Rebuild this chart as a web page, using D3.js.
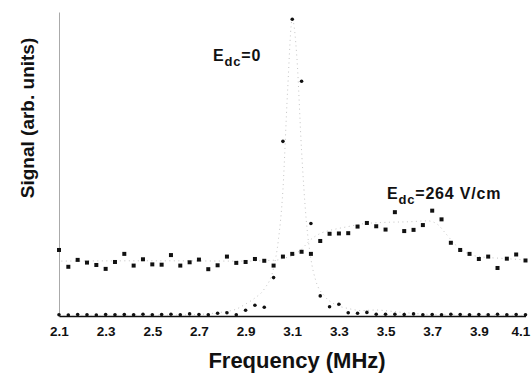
<!DOCTYPE html>
<html>
<head>
<meta charset="utf-8">
<script src="https://cdn.jsdelivr.net/npm/d3@7"></script>
<style>
  body { margin: 0; background: #fff; }
  svg { display: block; font-family: 'Liberation Sans', Arial, Helvetica, sans-serif; }
</style>
</head>
<body>
<svg id="chart" width="531" height="373"></svg>
<script>
// frequencies (MHz) of the measured points
var freq = [2.10, 2.14, 2.18, 2.22, 2.26, 2.30, 2.34, 2.38, 2.42, 2.46,
  2.50, 2.54, 2.58, 2.62, 2.66, 2.70, 2.74, 2.78, 2.82, 2.86,
  2.90, 2.94, 2.98, 3.02, 3.06, 3.10, 3.14, 3.18, 3.22, 3.26,
  3.30, 3.34, 3.38, 3.42, 3.46, 3.50, 3.54, 3.58, 3.62, 3.66,
  3.70, 3.74, 3.78, 3.82, 3.86, 3.90, 3.94, 3.98, 4.02, 4.06, 4.10];

// E_dc = 264 V/cm
var signal264 = [22.0, 16.4, 18.7, 17.8, 17.0, 15.7, 18.0, 20.7, 16.8, 18.9,
  17.2, 17.1, 20.3, 16.8, 17.9, 18.8, 15.6, 16.9, 19.8, 17.7,
  18.0, 19.0, 18.4, 16.8, 19.8, 20.7, 21.4, 20.7, 25.0, 27.4,
  27.5, 27.6, 29.8, 31.0, 29.9, 28.8, 34.6, 28.3, 28.7, 30.3,
  35.1, 32.2, 24.4, 22.0, 20.7, 19.0, 19.8, 16.0, 19.1, 20.5, 18.5];

// E_dc = 0
var signal0 = [0.4, 0.3, 0.5, 0.4, 0.3, 0.5, 0.4, 0.5, 0.4, 0.6,
  0.4, 0.5, 0.6, 0.4, 0.7, 0.5, 0.4, 0.9, 1.1, 0.4,
  1.9, 3.6, 2.9, 12.8, 58.2, 98.9, 78.2, 30.8, 6.7, 3.1,
  3.9, 1.1, 0.9, 1.2, 0.6, 0.6, 0.6, 0.5, 0.7, 0.4,
  0.5, 0.4, 0.6, 0.5, 0.4, 0.5, 0.4, 0.6, 0.4, 0.5, 0.4];

// fitted curves (dotted)
var fit264Freq = [2.11, 2.50, 2.90, 3.00, 3.04, 3.06, 3.10, 3.14, 3.18, 3.22,
  3.26, 3.30, 3.34, 3.40, 3.50, 3.60, 3.68, 3.72, 3.76, 3.80,
  3.84, 3.90, 4.00, 4.10];
var fit264 = [18.3, 18.4, 18.3, 18.5, 18.7, 19.2, 20.0, 22.3, 25.5, 27.5,
  28.5, 29.2, 29.8, 30.7, 31.2, 31.4, 31.7, 30.7, 27.3, 23.7,
  21.3, 19.8, 19.2, 18.7];

var fit0Freq = [2.10, 2.60, 2.70, 2.76, 2.80, 2.86, 2.90, 2.94, 2.98, 3.02,
  3.04, 3.06, 3.08, 3.10, 3.12, 3.14, 3.16, 3.18, 3.20, 3.24,
  3.28, 3.34, 3.40, 3.46, 3.52, 3.60, 3.70, 3.90, 4.10];
var fit0 = [0.2, 0.3, 0.5, 0.9, 1.3, 2.3, 4.0, 6.0, 9.0, 16,
  25, 42, 75, 99, 86, 55, 32, 19, 12, 6.5,
  4.0, 2.5, 1.8, 2.0, 1.6, 1.0, 0.5, 0.3, 0.2];

var tickLabels = [2.1, 2.3, 2.5, 2.7, 2.9, 3.1, 3.3, 3.5, 3.7, 3.9, 4.1];

var svg = d3.select('#chart');

var x = d3.scaleLinear()
  .domain([2.1, 4.1])
  .range([59, 525.5]);

var y = d3.scaleLinear()
  .domain([0, 101.3])
  .range([316, 12]);

// y axis: plain grey line, no ticks
svg.append('g')
  .attr('transform', 'translate(59,0)')
  .call(d3.axisLeft(y).tickValues([]).tickSizeOuter(0))
  .select('.domain')
  .attr('stroke', '#aaa')
  .attr('stroke-width', 1);

// x axis
var xaxis = svg.append('g')
  .attr('transform', 'translate(0,316)')
  .call(d3.axisBottom(x)
    .tickValues(tickLabels)
    .tickSize(0)
    .tickPadding(10)
    .tickFormat(d3.format('.1f')));

xaxis.select('.domain')
  .attr('stroke', '#111')
  .attr('stroke-width', 1.3);

xaxis.selectAll('text')
  .attr('fill', '#111')
  .style('font-size', '13.5px')
  .style('font-weight', 'bold');

// last label sits at the right edge, nudge it inside
xaxis.selectAll('.tick')
  .filter(function (d) { return d === 4.1 })
  .select('text')
  .attr('dx', -5);

// fitted curves
var line = d3.line()
  .curve(d3.curveMonotoneX)
  .x(function (d) { return x(d[0]) })
  .y(function (d) { return y(d[1]) });

var fits = [d3.zip(fit264Freq, fit264), d3.zip(fit0Freq, fit0)];

svg.append('g')
  .selectAll('path')
  .data(fits)
  .enter().append('path')
  .attr('d', line)
  .attr('fill', 'none')
  .attr('stroke', '#aaa')
  .attr('stroke-width', 0.7)
  .attr('stroke-dasharray', '1,3.5');

// E_dc = 264 V/cm points (squares)
svg.append('g')
  .selectAll('rect')
  .data(d3.zip(freq, signal264))
  .enter().append('rect')
  .attr('x', function (d) { return x(d[0]) - 2 })
  .attr('y', function (d) { return y(d[1]) - 2 })
  .attr('width', 4)
  .attr('height', 4)
  .attr('fill', '#111');

// E_dc = 0 points
svg.append('g')
  .selectAll('circle')
  .data(d3.zip(freq, signal0))
  .enter().append('circle')
  .attr('cx', function (d) { return x(d[0]) })
  .attr('cy', function (d) { return y(d[1]) })
  .attr('r', 1.8)
  .attr('fill', '#111');

// axis titles
svg.append('text')
  .attr('text-anchor', 'middle')
  .attr('transform', 'translate(297,368)')
  .style('font-size', '22px')
  .style('font-weight', 'bold')
  .attr('fill', '#111')
  .text('Frequency (MHz)');

svg.append('text')
  .attr('text-anchor', 'middle')
  .attr('transform', 'translate(34,118)rotate(-90)')
  .style('font-size', '19px')
  .style('font-weight', 'bold')
  .attr('fill', '#111')
  .text('Signal (arb. units)');

// curve labels
function fieldLabel(px, py, value) {
  var t = svg.append('text')
    .attr('x', px)
    .attr('y', py)
    .style('font-size', '16px')
    .style('font-weight', 'bold')
    .style('letter-spacing', '0.8px')
    .attr('fill', '#111');
  t.append('tspan').text('E');
  t.append('tspan').attr('dy', 4.5).style('font-size', '13px').text('dc');
  t.append('tspan').attr('dy', -4.5).text('=' + value);
}

fieldLabel(213, 61, '0');
fieldLabel(387, 199, '264 V/cm');
</script>
</body>
</html>
